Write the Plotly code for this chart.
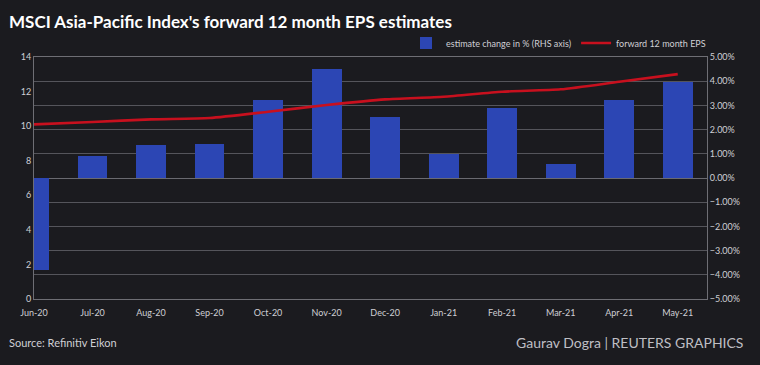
import plotly.graph_objects as go

months = ["Jun-20", "Jul-20", "Aug-20", "Sep-20", "Oct-20", "Nov-20",
          "Dec-20", "Jan-21", "Feb-21", "Mar-21", "Apr-21", "May-21"]
estimate_change_pct = [-3.80, 0.92, 1.38, 1.39, 3.22, 4.49,
                       2.53, 0.99, 2.91, 0.58, 3.21, 3.98]
forward_eps = [10.10, 10.24, 10.39, 10.47, 10.83, 11.22,
               11.55, 11.70, 11.99, 12.13, 12.57, 13.01]
pct_ticks = [-5, -4, -3, -2, -1, 0, 1, 2, 3, 4, 5]
eps_ticks = [0, 2, 4, 6, 8, 10, 12, 14]

x = list(range(len(months)))
BG = "#1b1b1f"
TXT = "#cfcfd4"
FONT = "Lato"

fig = go.Figure()
fig.add_trace(go.Bar(
    x=x, y=[v / 100 for v in estimate_change_pct],
    name="estimate change in % (RHS axis)",
    marker=dict(color="#2c46b4", line=dict(width=0)),
    width=0.51, yaxis="y",
))
fig.add_trace(go.Scatter(
    x=x, y=forward_eps, name="forward 12 month EPS",
    mode="lines", line=dict(color="#c8101e", width=2.6, shape="spline", smoothing=0.6),
    yaxis="y2",
))

fig.update_layout(
    width=760, height=365,
    paper_bgcolor=BG, plot_bgcolor=BG,
    margin=dict(l=34, r=53, t=57, b=66, autoexpand=False),
    font=dict(family=FONT, color=TXT, size=9),
    showlegend=True,
    legend=dict(orientation="h", x=1 + 4 / 673, xanchor="right", y=1 + (57 - 43) / 242,
                yanchor="middle", font=dict(size=9, color=TXT), bgcolor="rgba(0,0,0,0)",
                traceorder="normal", itemwidth=30),
    bargap=0,
    xaxis=dict(
        range=[0, 11.5], tickmode="array", tickvals=x, ticktext=months,
        showgrid=False, zeroline=False, ticks="", showline=True, mirror=True,
        linecolor="#6e6e74", linewidth=1, tickfont=dict(size=9, color=TXT),
        automargin=False, ticklabelstandoff=5,
    ),
    yaxis=dict(
        side="right", range=[-0.05, 0.05], tickmode="array",
        tickvals=[t / 100 for t in pct_ticks], tickformat=".2%",
        showgrid=True, gridcolor="#55555b", gridwidth=1,
        zeroline=True, zerolinecolor="#6a6a70", zerolinewidth=1,
        showline=True, linecolor="#6e6e74", ticks="", tickfont=dict(size=9, color=TXT),
        automargin=False,
    ),
    yaxis2=dict(
        side="left", overlaying="y", range=[0, 14], tickmode="array", tickvals=eps_ticks,
        showgrid=False, zeroline=False, showline=True, linecolor="#6e6e74",
        ticks="", tickfont=dict(size=9, color=TXT), automargin=False,
    ),
    annotations=[
        dict(text="<b>MSCI Asia-Pacific Index's forward 12 month EPS estimates</b>",
             xref="paper", yref="paper", x=-27 / 673, y=1 + (57 - 21) / 242,
             xanchor="left", yanchor="middle", showarrow=False,
             font=dict(size=17, color="#ffffff", family=FONT)),
        dict(text="Source: Refinitiv Eikon", xref="paper", yref="paper",
             x=-27 / 673, y=-(342 - 299) / 242, xanchor="left", yanchor="middle",
             showarrow=False, font=dict(size=11, color=TXT, family=FONT)),
        dict(text="Gaurav Dogra | REUTERS GRAPHICS", xref="paper", yref="paper",
             x=(745 - 34) / 673, y=-(342 - 299) / 242, xanchor="right", yanchor="middle",
             showarrow=False, font=dict(size=14, color="#bfbfc4", family=FONT)),
    ],
)

fig.write_html(
    "out.html",
    config={"displayModeBar": False},
    post_script="document.body.style.margin='0';document.body.style.background='%s';"
                "document.body.style.overflow='hidden';" % BG,
)
